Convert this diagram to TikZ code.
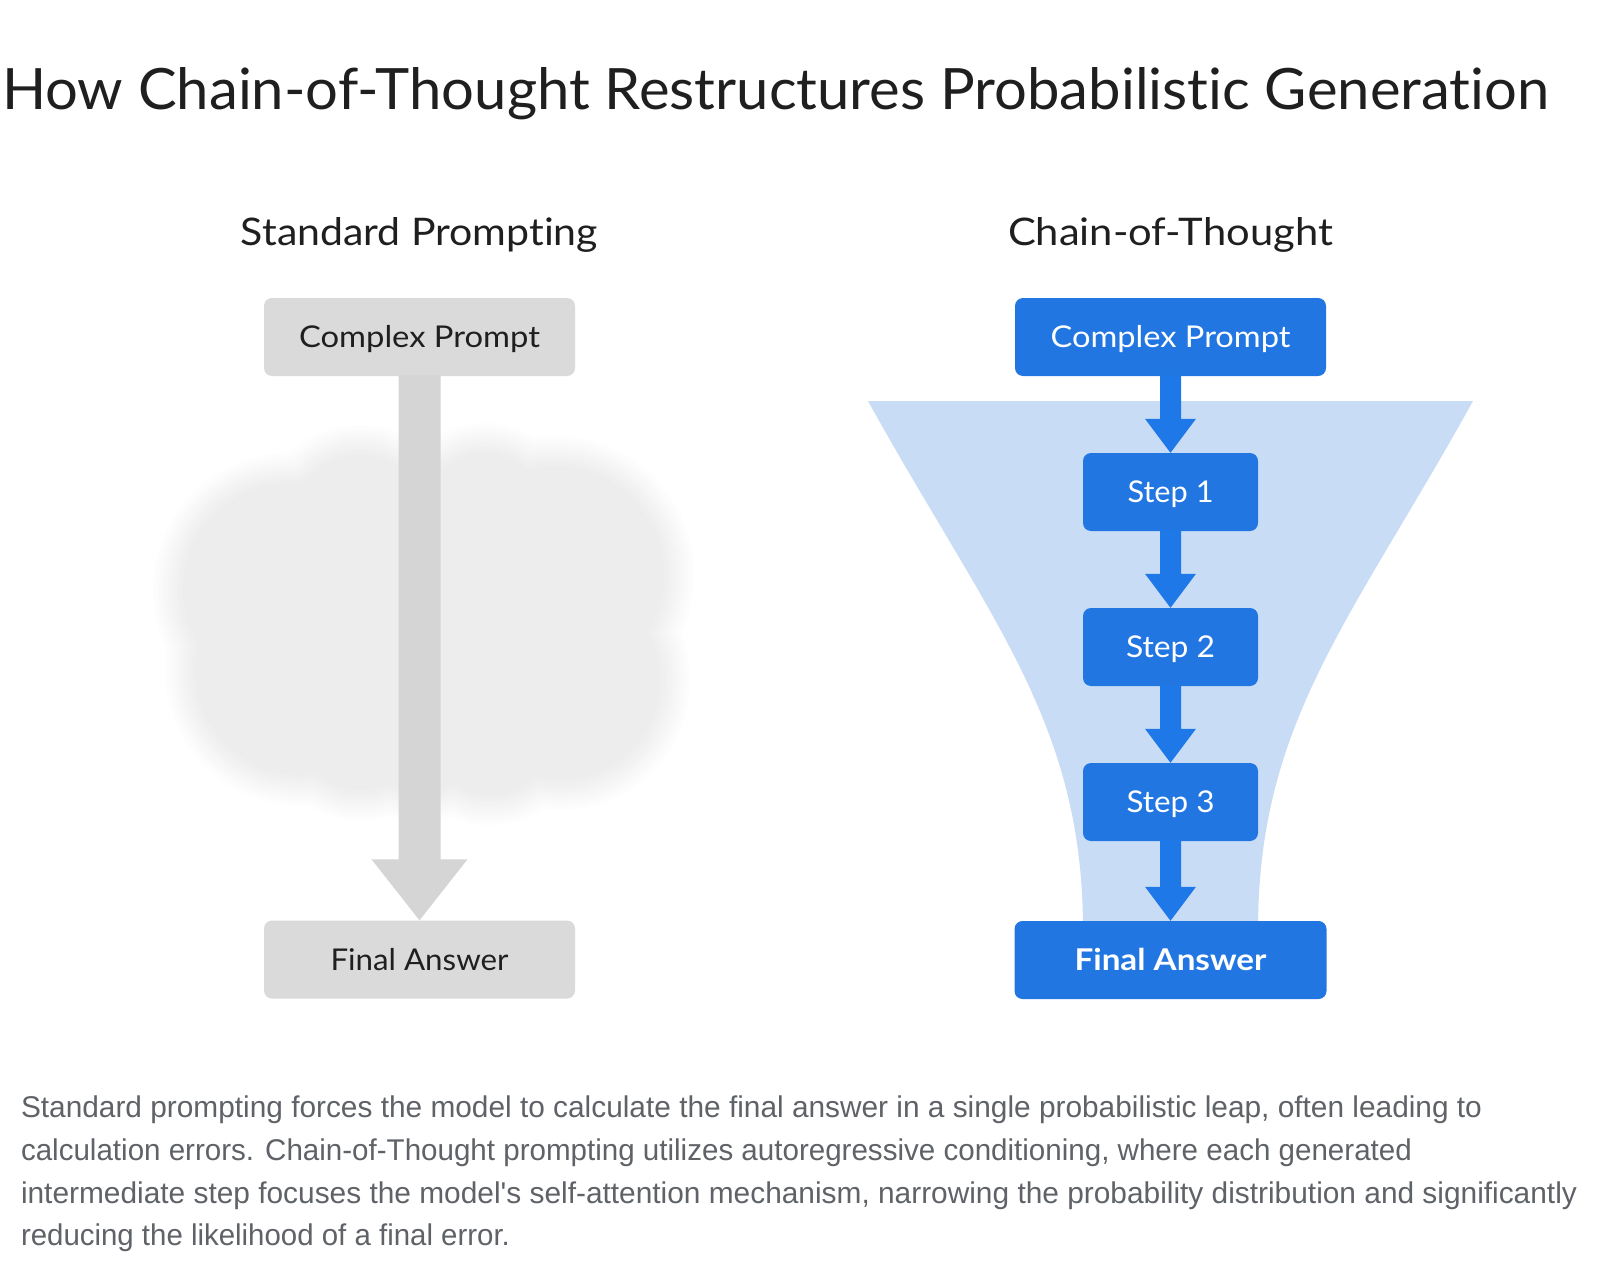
\documentclass[tikz,border=0pt]{standalone}
\usepackage{fontspec}
\usepackage{graphicx}
\setmainfont{Lato}[RawFeature={-liga}]
\newfontfamily\bodyfont{Liberation Sans}
\usetikzlibrary{calc}
\definecolor{ink}{HTML}{1F1F1F}
\definecolor{bodygray}{HTML}{5F6368}
\definecolor{boxgray}{HTML}{DADADA}
\definecolor{arrowgray}{HTML}{D5D5D5}
\definecolor{cloudA}{HTML}{EDEDED}
\definecolor{gblue}{HTML}{2276E2}
\definecolor{ablue}{HTML}{1F78E8}
\definecolor{funnelblue}{HTML}{C8DCF6}
\newcommand\fitto[2]{\resizebox{#1}{\height}{#2}}
% #1 from node, #2 to node, #3 shaft half width, #4 head half width, #5 head length, #6 colour
\newcommand\flowarr[6]{%
  \fill[#6] let \p1=(#1.south), \p2=(#2.north) in
    (\x1-#3pt,\y1+1pt) -- (\x1-#3pt,\y2+#5pt) -- (\x1-#4pt,\y2+#5pt) -- (\x1,\y2)
    -- (\x1+#4pt,\y2+#5pt) -- (\x1+#3pt,\y2+#5pt) -- (\x1+#3pt,\y1+1pt) -- cycle;}
\newcommand\cloudblob[1]{%
  \fill (290,590) circle[radius=107+#1];
  \fill (300,670) circle[radius=105+#1];
  \fill (555,575) circle[radius=109+#1];
  \fill (560,680) circle[radius=100+#1];
  \fill (423,560) circle[radius=95+#1];
  \fill (423,690) circle[radius=100+#1];
  \fill (360,525) circle[radius=70+#1];
  \fill (485,515) circle[radius=62+#1];
  \fill (360,725) circle[radius=65+#1];
  \fill (490,730) circle[radius=65+#1];}
\begin{document}
\begin{tikzpicture}[x=1pt,y=-1pt,
  txt/.style={inner sep=0pt, outer sep=0pt},
  gbox/.style={fill=boxgray, rounded corners=8pt, minimum height=78pt, inner sep=0pt,
    text height=21.5pt, text depth=0pt, text=ink},
  bbox/.style={fill=gblue, rounded corners=8pt, minimum height=78pt, inner sep=0pt,
    text height=21.5pt, text depth=0pt, text=white}
]
\useasboundingbox[fill=white] (0,0) rectangle (1600,1268);

% title
\node[txt, anchor=base west, text=ink] (title) at (2,110)
  {\fitto{1547pt}{\fontsize{57}{60}\selectfont How Chain-of-Thought Restructures Probabilistic Generation}};

% column headings
\node[txt, anchor=base, text=ink] (h1) at (419.5,245)
  {\fitto{357pt}{\fontsize{38}{40}\selectfont Standard Prompting}};
\node[txt, anchor=base, text=ink] (h2) at (1170.5,245)
  {\fitto{325pt}{\fontsize{38}{40}\selectfont Chain-of-Thought}};

% cloud (fuzzy edge built from layers)
\foreach \d in {30,27,...,0}{
  \pgfmathtruncatemacro\p{100-\d*3}
  \begin{scope}[fill=cloudA!\p!white]\cloudblob{\d}\end{scope}
}

% funnel
\fill[funnelblue] (868,401) -- (1473,401)
  .. controls (1351,621) and (1258,722) .. (1258,930)
  -- (1083,930)
  .. controls (1083,722) and (990,621) .. (868,401) -- cycle;

% standard prompting
\node[gbox, minimum width=311pt] (cp1) at (419.5,337)
  {\fitto{241pt}{\fontsize{30}{32}\selectfont Complex Prompt}};
\node[gbox, minimum width=311pt] (fa1) at (419.5,959.5)
  {\fitto{178pt}{\fontsize{30}{32}\selectfont Final Answer}};
\flowarr{cp1}{fa1}{21}{48}{61}{arrowgray}

% chain of thought
\node[bbox, minimum width=311pt] (cp2) at (1170.5,337)
  {\fitto{240pt}{\fontsize{30}{32}\selectfont Complex Prompt}};
\node[bbox, minimum width=175pt] (s1) at (1170.5,492)
  {\fitto{86pt}{\fontsize{30}{32}\selectfont Step 1}};
\node[bbox, minimum width=175pt] (s2) at (1170.5,647)
  {\fitto{89pt}{\fontsize{30}{32}\selectfont Step 2}};
\node[bbox, minimum width=175pt] (s3) at (1170.5,802)
  {\fitto{88pt}{\fontsize{30}{32}\selectfont Step 3}};
\node[bbox, minimum width=312pt] (fa2) at (1170.5,960)
  {\fitto{192pt}{\fontsize{30}{32}\selectfont\bfseries Final Answer}};
\flowarr{cp2}{s1}{10.5}{25.5}{34}{ablue}
\flowarr{s1}{s2}{10.5}{25.5}{34}{ablue}
\flowarr{s2}{s3}{10.5}{25.5}{34}{ablue}
\flowarr{s3}{fa2}{10.5}{25.5}{34}{ablue}

% caption
\begin{scope}[every node/.style={txt, anchor=base west, text=bodygray}]
\node (l1) at (21,1117) {\fitto{1461pt}{\bodyfont\fontsize{30}{32}\selectfont Standard prompting forces the model to calculate the final answer in a single probabilistic leap, often leading to}};
\node (l2) at (21,1160) {\fitto{1391pt}{\bodyfont\fontsize{30}{32}\selectfont calculation errors. Chain-of-Thought prompting utilizes autoregressive conditioning, where each generated}};
\node (l3) at (21,1203) {\fitto{1556pt}{\bodyfont\fontsize{30}{32}\selectfont intermediate step focuses the model's self-attention mechanism, narrowing the probability distribution and significantly}};
\node (l4) at (21,1245) {\fitto{489pt}{\bodyfont\fontsize{30}{32}\selectfont reducing the likelihood of a final error.}};
\end{scope}
\end{tikzpicture}
\end{document}
